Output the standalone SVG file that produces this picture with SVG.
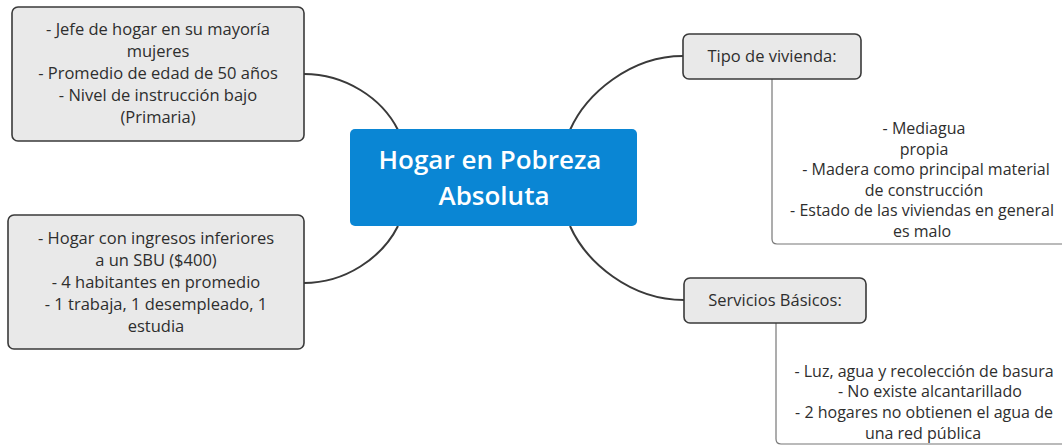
<svg xmlns="http://www.w3.org/2000/svg" width="1062" height="446" viewBox="0 0 1062 446">
<style>
.box{fill:#e9e9e9;stroke:#3a3a3a;stroke-width:1.6}
.t{font-family:"Open Sans",Lato,sans-serif;fill:#2e2e2e;text-anchor:middle}
.t16{font-size:16.5px}
.t15{font-size:16px}
.title{font-family:"Open Sans",Lato,sans-serif;font-size:26px;font-weight:600;fill:#fff;text-anchor:middle}
.conn{fill:none;stroke:#3a3a3a;stroke-width:2}
.sub{fill:none;stroke:#777;stroke-width:1.2}
</style>
<rect width="1062" height="446" fill="#fff"/>
<g id="connectors">
<path class="conn" d="M304,74 C345,74 382,98 398,130"/>
<path class="conn" d="M304,283 C345,283 382,258 398,226"/>
<path class="conn" d="M570,130 C586,94 630,56 683,56"/>
<path class="conn" d="M570,226 C586,262 630,300 684,300"/>
<path class="sub" d="M772,79 V239 Q772,244 777,244 H1062"/>
<path class="sub" d="M776,323 V439 Q776,444 781,444 H1062"/>
</g>
<g id="center">
<rect x="350" y="129" width="287" height="97" rx="5" fill="#0a86d4"/>
<text class="title" x="490" y="169">Hogar en Pobreza</text>
<text class="title" x="494" y="205">Absoluta</text>
</g>
<g id="perfil">
<rect class="box" x="12" y="7" width="292" height="134" rx="6"/>
<text class="t t16" x="158" y="35">- Jefe de hogar en su mayoría</text>
<text class="t t16" x="158" y="57">mujeres</text>
<text class="t t16" x="158" y="79">- Promedio de edad de 50 años</text>
<text class="t t16" x="158" y="101">- Nivel de instrucción bajo</text>
<text class="t t16" x="158" y="123">(Primaria)</text>
</g>
<g id="ingresos">
<rect class="box" x="8" y="215" width="296" height="134" rx="6"/>
<text class="t t16" x="156" y="244">- Hogar con ingresos inferiores</text>
<text class="t t16" x="156" y="266">a un SBU ($400)</text>
<text class="t t16" x="156" y="288">- 4 habitantes en promedio</text>
<text class="t t16" x="156" y="310">- 1 trabaja, 1 desempleado, 1</text>
<text class="t t16" x="156" y="332">estudia</text>
</g>
<g id="tipo">
<rect class="box" x="683" y="34" width="178" height="45" rx="6"/>
<text class="t t16" x="772" y="62">Tipo de vivienda:</text>
</g>
<g id="tipo-detalle">
<text class="t t15" x="924" y="134">- Mediagua</text>
<text class="t t15" x="924" y="155">propia</text>
<text class="t t15" x="926" y="175">- Madera como principal material</text>
<text class="t t15" x="924" y="196">de construcción</text>
<text class="t t15" x="922" y="216">- Estado de las viviendas en general</text>
<text class="t t15" x="922" y="237">es malo</text>
</g>
<g id="servicios">
<rect class="box" x="684" y="278" width="182" height="45" rx="6"/>
<text class="t t16" x="775" y="306">Servicios Básicos:</text>
</g>
<g id="servicios-detalle">
<text class="t t15" x="924" y="377">- Luz, agua y recolección de basura</text>
<text class="t t15" x="930" y="397">- No existe alcantarillado</text>
<text class="t t15" x="924" y="418">- 2 hogares no obtienen el agua de</text>
<text class="t t15" x="923" y="439">una red pública</text>
</g>
</svg>
